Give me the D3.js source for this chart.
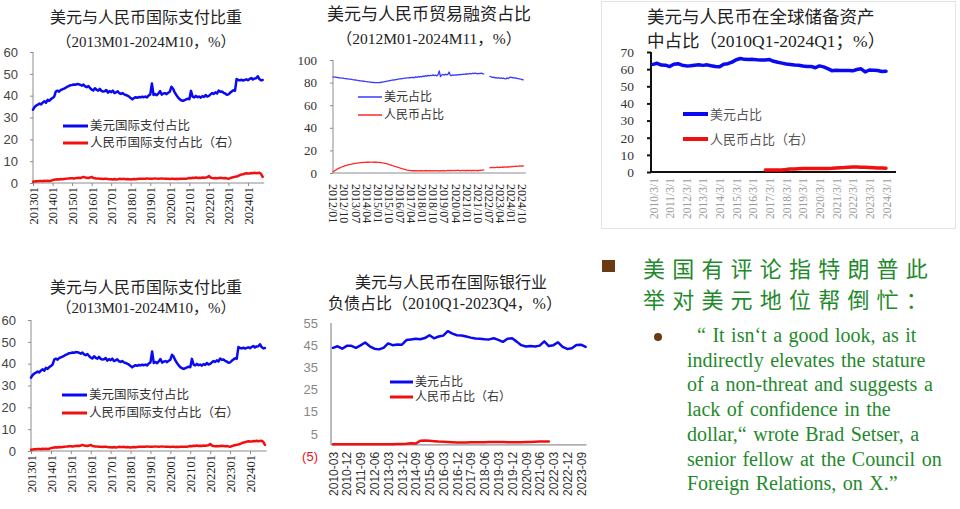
<!doctype html>
<html lang="zh">
<head>
<meta charset="UTF-8">
<title>美元与人民币占比</title>
<script src="https://cdnjs.cloudflare.com/ajax/libs/d3/7.8.5/d3.min.js"></script>
<style>
    body { margin: 0; background: #fff; }
    svg { display: block; }
    .ttl { font-family: "Liberation Serif", "Noto Sans CJK SC", serif; fill: #222; }
    .lg { font-family: "Liberation Serif", "Noto Sans CJK SC", serif; fill: #333; }
</style>
</head>
<body>
<svg id="board" width="960" height="509"></svg>
<script>

    // ---------- data ----------

    // 美元与人民币国际支付比重, monthly 2013M01-2024M10
    var payLabels = ['201301', '201401', '201501', '201601', '201701', '201801',
        '201901', '202001', '202101', '202201', '202301', '202401'];
    var usdPay = [
        33.6, 34.8, 35.5, 35.9, 36.4, 36.0, 36.9, 37.4, 36.8, 38.1, 37.6, 38.4,
        38.9, 39.6, 41.9, 42.3, 41.8, 42.6, 42.9, 43.2, 43.6, 44.1, 44.4, 44.8,
        44.9, 45.1, 45.0, 45.3, 45.2, 45.0, 44.6, 45.1, 44.3, 43.9, 44.4, 43.5,
        42.8, 42.4, 43.4, 42.7, 42.3, 43.1, 42.2, 41.9, 42.0, 42.6, 41.4, 42.1,
        41.6, 42.3, 41.2, 41.5, 42.0, 41.1, 40.8, 41.2, 40.6, 40.3, 40.0, 39.6,
        38.9, 38.3, 38.9, 39.3, 39.0, 39.4, 39.2, 39.5, 39.3, 39.6, 39.2, 40.1,
        40.6, 45.6, 40.3, 40.8, 40.2, 41.0, 42.1, 40.5, 40.9, 41.2, 40.7, 41.3,
        41.8, 44.1, 43.2, 41.5, 40.3, 39.2, 38.4, 37.9, 37.6, 37.9, 38.3, 38.6,
        38.4, 42.2, 39.6, 39.2, 39.9, 39.3, 39.6, 39.1, 39.8, 39.4, 40.3, 39.6,
        39.9, 40.6, 41.2, 40.8, 41.5, 41.0, 42.3, 41.8, 41.9, 41.3, 41.0, 40.4,
        40.6, 41.3, 41.9, 42.5, 42.2, 47.6, 47.2, 47.0, 47.3, 46.9, 47.2, 47.5,
        47.1, 47.6, 48.1, 47.4, 47.9, 48.0, 48.9, 47.6, 47.0, 47.2
    ];
    var cnyPay = [
        0.6, 0.7, 0.8, 0.8, 0.9, 0.9, 0.8, 1.0, 0.9, 1.0, 0.9, 1.0,
        1.3, 1.5, 1.6, 1.7, 1.6, 1.8, 1.7, 1.8, 1.9, 2.0, 2.1, 2.2,
        2.2, 2.1, 2.2, 2.3, 2.4, 2.3, 2.5, 2.8, 2.5, 2.4, 2.3, 2.5,
        2.8, 2.3, 2.2, 2.0, 2.1, 1.9, 2.0, 1.8, 1.9, 2.0, 1.8, 1.7,
        1.7, 1.6, 1.8, 1.6, 1.7, 1.9, 1.8, 1.8, 1.9, 1.7, 1.8, 1.7,
        1.6, 1.7, 1.8, 1.7, 1.8, 1.9, 2.0, 1.9, 2.0, 1.9, 2.1, 2.0,
        2.0, 1.9, 2.0, 2.1, 2.0, 1.9, 2.0, 2.1, 2.0, 1.9, 2.0, 1.9,
        1.8, 2.0, 1.9, 1.8, 1.9, 1.8, 1.9, 2.0, 1.9, 2.0, 1.9, 2.1,
        2.3, 2.2, 2.4, 2.3, 2.5, 2.3, 2.4, 2.3, 2.5, 2.4, 2.5, 2.6,
        3.2, 2.5, 2.3, 2.2, 2.3, 2.2, 2.3, 2.4, 2.3, 2.2, 2.3, 2.1,
        1.9, 2.2, 2.5, 2.6, 2.9, 3.0, 3.2, 3.6, 3.9, 4.0, 4.3, 4.5,
        4.4, 4.3, 4.6, 4.5, 4.7, 4.5, 4.6, 4.7, 4.2, 2.8
    ];
    var payTicksY = [0, 10, 20, 30, 40, 50, 60];

    // 美元与人民币贸易融资占比, monthly 2012M01-2024M11
    var tradeLabels = ['2012/01', '2012/10', '2013/07', '2014/04', '2015/01', '2015/10',
        '2016/07', '2017/04', '2018/01', '2018/10', '2019/07', '2020/04', '2021/01',
        '2021/10', '2022/07', '2023/04', '2024/01', '2024/10'];
    var usdTrade = [
        85.0, 84.9, 84.8, 84.6, 84.5, 84.3, 84.2, 84.0, 83.9, 83.7, 83.6, 83.4,
        83.3, 83.1, 83.0, 82.8, 82.6, 82.5, 82.3, 82.1, 82.0, 81.8, 81.6, 81.5,
        81.3, 81.2, 81.0, 80.9, 80.7, 80.6, 80.5, 80.3, 80.2, 80.1, 80.0, 80.0,
        79.9, 80.0, 80.1, 80.3, 80.5, 80.7, 80.9, 81.1, 81.3, 81.5, 81.7, 81.9,
        82.1, 82.3, 82.5, 82.7, 82.9, 83.1, 83.3, 83.4, 83.6, 83.8, 83.9, 84.0,
        84.1, 84.2, 84.3, 84.4, 84.5, 84.6, 84.3, 85.2, 84.6, 85.4, 84.9, 85.5,
        85.1, 85.8, 85.3, 86.2, 85.6, 86.4, 85.9, 86.5, 86.1, 86.8, 86.2, 86.6,
        86.0, 86.9, 90.3, 85.4, 86.7, 87.2, 86.5, 87.5, 86.8, 87.3, 89.4, 86.4,
        86.2, 86.8, 86.5, 86.9, 86.6, 87.1, 86.8, 87.3, 87.0, 87.4, 87.2, 87.6,
        87.4, 87.9, 87.6, 88.1, 87.8, 88.3, 88.0, 88.4, 88.1, 87.8, 88.2, 87.9,
        88.3, 88.0, 87.6, null, null, null, null, 85.6, 85.0, 84.6, 84.8, 84.2,
        84.4, 84.0, 84.3, 83.8, 84.1, 83.7, 84.0, 83.5, 83.2, 84.2, 83.6, 84.6,
        84.8, 84.3, 84.5, 84.0, 84.2, 83.8, 83.6, 83.2, 83.0, 82.7, 82.4
    ];
    var cnyTrade = [
        1.0, 1.8, 2.5, 3.2, 3.8, 4.3, 4.8, 5.3, 5.7, 6.1, 6.5, 6.8,
        7.1, 7.4, 7.6, 7.9, 8.1, 8.3, 8.5, 8.7, 8.8, 9.0, 9.1, 9.2,
        9.3, 9.4, 9.4, 9.5, 9.5, 9.5, 9.6, 9.6, 9.6, 9.5, 9.5, 9.5,
        9.4, 9.4, 9.3, 9.2, 9.0, 8.8, 8.6, 8.3, 8.0, 7.7, 7.3, 7.0,
        6.6, 6.3, 5.9, 5.6, 5.2, 4.9, 4.5, 4.2, 3.8, 3.5, 3.2, 2.9,
        2.6, 2.4, 2.2, 2.1, 2.0, 2.1, 2.0, 2.1, 2.0, 1.9, 2.0, 2.1,
        2.0, 1.9, 2.1, 2.0, 2.2, 1.9, 2.0, 2.1, 1.8, 2.0, 1.9, 2.1,
        1.9, 2.0, 1.7, 2.1, 1.9, 2.2, 2.0, 1.8, 2.1, 2.3, 2.0, 2.2,
        2.1, 2.4, 2.0, 2.3, 2.1, 2.5, 2.2, 2.0, 2.4, 2.1, 2.3, 2.0,
        2.2, 2.4, 2.1, 2.3, 2.0, 2.2, 2.4, 2.1, 2.3, 2.0, 2.2, 2.5,
        2.3, 2.6, 2.8, null, null, null, null, 4.6, 4.9, 4.7, 5.0, 4.8,
        4.9, 5.1, 4.8, 5.2, 5.0, 5.3, 5.1, 5.4, 5.2, 5.5, 5.3, 5.6,
        5.4, 5.8, 5.6, 5.9, 6.1, 5.8, 6.0, 6.3, 6.1, 6.4, 6.2
    ];
    var tradeTicksY = [0, 20, 40, 60, 80, 100];

    // 美元与人民币在全球储备资产中占比, quarterly 2010Q1-2024Q1
    var reserveLabels = ['2010/3/1', '2011/3/1', '2012/3/1', '2013/3/1', '2014/3/1',
        '2015/3/1', '2016/3/1', '2017/3/1', '2018/3/1', '2019/3/1', '2020/3/1',
        '2021/3/1', '2022/3/1', '2023/3/1', '2024/3/1'];
    var usdReserve = [
        62.8, 63.4, 62.4, 62.3,  61.5, 62.9, 63.2, 62.3,  61.9, 62.0, 62.3, 62.5,
        62.2, 62.5, 62.0, 61.6,  61.4, 62.9, 63.2, 64.1,  65.5, 66.2, 65.7, 65.6,
        65.7, 65.5, 65.4, 65.3,  65.6, 64.6, 64.0, 63.5,  63.0, 62.7, 62.4, 62.3,
        61.8, 61.6, 61.6, 60.8,  61.9, 61.3, 60.3, 59.1,  59.3, 59.2, 59.2, 59.2,
        59.0, 59.8, 60.2, 58.4,  59.5, 59.4, 59.2, 58.6,  58.8
    ];
    var cnyReserve = [
        null, null, null, null,  null, null, null, null,  null, null, null, null,
        null, null, null, null,  null, null, null, null,  null, null, null, null,
        null, null, null, 1.1,   1.1, 1.1, 1.2, 1.2,      1.4, 1.8, 1.8, 1.9,
        2.0, 2.0, 2.0, 2.0,      2.0, 2.0, 2.1, 2.2,      2.4, 2.5, 2.6, 2.8,
        2.9, 2.9, 2.8, 2.7,      2.6, 2.5, 2.4, 2.3,      2.2
    ];
    var reserveTicksY = [0, 10, 20, 30, 40, 50, 60, 70];

    // 美元与人民币在国际银行业负债占比, quarterly 2010Q1-2023Q4
    var liabLabels = ['2010-03', '2010-12', '2011-09', '2012-06', '2013-03', '2013-12',
        '2014-09', '2015-06', '2016-03', '2016-12', '2017-09', '2018-06', '2019-03',
        '2019-12', '2020-09', '2021-06', '2022-03', '2022-12', '2023-09'];
    var usdLiab = [
        43.8, 44.5, 43.4, 44.7,  44.7, 43.8, 44.9, 46.2,  44.5, 43.4, 43.1, 43.8,
        45.8, 45.0, 45.3, 45.2,  47.3, 47.6, 47.9, 47.7,  48.2, 49.5, 48.1, 48.9,
        49.3, 51.3, 50.2, 49.5,  49.4, 48.9, 48.4, 48.0,  47.9, 47.7, 47.6, 48.1,
        47.4, 46.5, 47.9, 48.1,  46.6, 45.0, 44.4, 44.6,  44.4, 44.8, 46.7, 44.6,
        45.0, 46.3, 44.2, 43.3,  43.6, 45.1, 45.2, 44.2
    ];
    var cnyLiab = [
        0.3, 0.3, 0.3, 0.3,  0.3, 0.3, 0.3, 0.3,  0.3, 0.3, 0.3, 0.3,
        0.3, 0.3, 0.4, 0.4,  0.5, 0.8, 0.6, 1.9,  2.0, 1.9, 1.7, 1.5,
        1.4, 1.3, 1.2, 1.1,  1.1, 1.1, 1.2, 1.2,  1.2, 1.2, 1.3, 1.3,
        1.3, 1.3, 1.2, 1.2,  1.2, 1.2, 1.3, 1.3,  1.4, 1.5, 1.5, 1.5,
        null, null, null, null,  null, null, null, null
    ];
    var liabTicksY = [-5, 5, 15, 25, 35, 45, 55];

    // text block
    var headLines = ['美国有评论指特朗普此', '举对美元地位帮倒忙：'];
    var quoteLines = [
        '“ It isn‘t a good look, as it',
        'indirectly elevates the stature',
        'of a non-threat and suggests a',
        'lack of confidence in the',
        'dollar,“ wrote Brad Setser, a',
        'senior fellow at the Council on',
        'Foreign Relations, on X.”'
    ];

    // ---------- drawing ----------

    var BLUE = '#0a0af0';
    var RED = '#f01010';

    var svg = d3.select('#board');

    function drawPanel(p) {

        var g = svg.append('g');

        var x = d3.scaleLinear().domain(p.xDomain).range(p.xRange);
        var y = d3.scaleLinear().domain(p.yDomain).range(p.yRange);
        var base = y(0);

        // y axis
        var yAxis = d3.axisLeft(y)
                .tickValues(p.yTicks)
                .tickSize(p.yTickSize)
                .tickPadding(p.yPad)
                .tickFormat(function (d) {
                    return d < 0 ? '(' + (-d) + ')' : d;
                });

        var ga = g.append('g')
                .attr('transform', 'translate(' + p.axisX + ',0)')
                .call(yAxis);
        ga.select('.domain').remove();
        ga.selectAll('line').attr('stroke', p.axisColor).attr('stroke-width', p.axisWidth);
        ga.selectAll('text')
                .attr('fill', function (d) { return d < 0 ? RED : p.yColor; })
                .style('font-family', p.yFont)
                .style('font-size', p.yFontSize + 'px');

        g.append('line')
                .attr('x1', p.axisX).attr('x2', p.axisX)
                .attr('y1', y(p.yDomain[1])).attr('y2', base)
                .attr('stroke', p.axisColor).attr('stroke-width', p.axisWidth);

        // x axis
        var xAxis = d3.axisBottom(x)
                .tickValues(p.xLabels.map(function (l, i) { return i * p.xStep; }))
                .tickSize(p.xTickSize)
                .tickFormat(function (d) { return p.xLabels[d / p.xStep]; });

        var gx = g.append('g')
                .attr('transform', 'translate(0,' + base + ')')
                .call(xAxis);
        gx.select('.domain').remove();
        gx.selectAll('line').attr('stroke', p.axisColor).attr('stroke-width', p.axisWidth);
        gx.selectAll('text')
                .attr('transform', 'rotate(' + p.rot + ')')
                .attr('x', p.rot < 0 ? -p.xPad : p.xPad)
                .attr('y', 0)
                .attr('dy', '0.35em')
                .attr('text-anchor', p.rot < 0 ? 'end' : 'start')
                .attr('fill', p.xColor)
                .style('font-family', p.xFont)
                .style('font-size', p.xFontSize + 'px');

        g.append('line')
                .attr('x1', p.axisX).attr('x2', x(p.xEnd))
                .attr('y1', base).attr('y2', base)
                .attr('stroke', p.axisColor).attr('stroke-width', p.axisWidth);

        // series
        p.series.forEach(function (s) {
            var line = d3.line()
                    .defined(function (d) { return d != null; })
                    .x(function (d, i) { return x(i); })
                    .y(function (d) { return y(d); });
            g.append('path')
                    .datum(s.values)
                    .attr('d', line)
                    .attr('fill', 'none')
                    .attr('stroke', s.color)
                    .attr('stroke-width', p.lineWidth)
                    .attr('stroke-linejoin', 'round')
                    .attr('stroke-linecap', 'round');
        });

        // legend
        p.series.forEach(function (s, k) {
            var ly = p.legend.y + k * p.legend.dy;
            g.append('line')
                    .attr('x1', p.legend.x).attr('x2', p.legend.x + p.legend.len)
                    .attr('y1', ly).attr('y2', ly)
                    .attr('stroke', s.color)
                    .attr('stroke-width', p.legend.width);
            g.append('text')
                    .attr('class', 'lg')
                    .attr('x', p.legend.x + p.legend.len + 2)
                    .attr('y', ly)
                    .attr('dominant-baseline', 'central')
                    .style('font-size', p.legend.size + 'px')
                    .style('fill', p.legend.color || '#333')
                    .text(s.name);
        });

        // titles
        p.titles.forEach(function (t) {
            g.append('text')
                    .attr('class', 'ttl')
                    .attr('x', t.x)
                    .attr('y', t.y)
                    .attr('text-anchor', t.anchor || 'middle')
                    .attr('dominant-baseline', 'central')
                    .style('font-size', t.size + 'px')
                    .text(t.text);
        });
    }

    function payPanel(top, axisX, right) {
        return {
            xDomain: [0, 132], xRange: [axisX, right], xEnd: 142, xStep: 12,
            yDomain: [0, 60], yRange: [top + 131, top], yTicks: payTicksY,
            axisX: axisX, axisColor: '#8c8c8c', axisWidth: 1,
            yTickSize: 3, yPad: 12, yColor: '#444', yFont: 'Liberation Sans', yFontSize: 13,
            xLabels: payLabels, xTickSize: 3, xPad: 4, rot: -90,
            xColor: '#222', xFont: 'Liberation Serif', xFontSize: 12.5,
            lineWidth: 2.5,
            series: [
                {name: '美元国际支付占比', values: usdPay, color: BLUE},
                {name: '人民币国际支付占比（右）', values: cnyPay, color: RED}
            ]
        };
    }

    // 1. top-left
    var p1 = payPanel(52, 33, 248);
    p1.legend = {x: 63, y: 126, dy: 17, len: 25, width: 3, size: 12.5};
    p1.titles = [
        {text: '美元与人民币国际支付比重', x: 146, y: 17, size: 16},
        {text: '（2013M01-2024M10，%）', x: 146, y: 42, size: 15}
    ];
    drawPanel(p1);

    // 4. bottom-left
    var p4 = payPanel(320, 31, 250);
    p4.legend = {x: 62, y: 395, dy: 18, len: 25, width: 3, size: 12.5};
    p4.titles = [
        {text: '美元与人民币国际支付比重', x: 146, y: 287, size: 16},
        {text: '（2013M01-2024M10，%）', x: 146, y: 308, size: 15}
    ];
    drawPanel(p4);

    // 2. top-middle
    drawPanel({
        xDomain: [0, 153], xRange: [333, 522], xEnd: 156, xStep: 9,
        yDomain: [0, 100], yRange: [173, 60], yTicks: tradeTicksY,
        axisX: 333, axisColor: '#8c8c8c', axisWidth: 1,
        yTickSize: 3, yPad: 13, yColor: '#333', yFont: 'Liberation Serif', yFontSize: 13,
        xLabels: tradeLabels, xTickSize: 0, xPad: 11, rot: 90,
        xColor: '#222', xFont: 'Liberation Serif', xFontSize: 12,
        lineWidth: 1.3,
        series: [
            {name: '美元占比', values: usdTrade, color: '#3a3aff'},
            {name: '人民币占比', values: cnyTrade, color: '#ff2a2a'}
        ],
        legend: {x: 358, y: 97, dy: 18, len: 24, width: 1.5, size: 12},
        titles: [
            {text: '美元与人民币贸易融资占比', x: 429, y: 14, size: 17},
            {text: '（2012M01-2024M11，%）', x: 429, y: 38, size: 15.5}
        ]
    });

    // 3. top-right
    svg.append('rect')
            .attr('x', 601.5).attr('y', 1.5)
            .attr('width', 354).attr('height', 227)
            .attr('fill', 'none')
            .attr('stroke', '#e4e4e4');

    drawPanel({
        xDomain: [0, 56], xRange: [653, 886], xEnd: 58.4, xStep: 4,
        yDomain: [0, 70], yRange: [172, 52], yTicks: reserveTicksY,
        axisX: 651, axisColor: '#111', axisWidth: 2,
        yTickSize: 4, yPad: 13, yColor: '#333', yFont: 'Liberation Serif', yFontSize: 13.5,
        xLabels: reserveLabels, xTickSize: 0, xPad: 6, rot: -90,
        xColor: '#9a9a9a', xFont: 'Liberation Serif', xFontSize: 11.5,
        lineWidth: 3.5,
        series: [
            {name: '美元占比', values: usdReserve, color: BLUE},
            {name: '人民币占比（右）', values: cnyReserve, color: RED}
        ],
        legend: {x: 683, y: 114, dy: 25, len: 25, width: 4, size: 13, color: '#555'},
        titles: [
            {text: '美元与人民币在全球储备资产', x: 647, y: 17, size: 17.5, anchor: 'start'},
            {text: '中占比（2010Q1-2024Q1；%）', x: 647, y: 41, size: 17.5, anchor: 'start'}
        ]
    });

    // 5. bottom-middle
    drawPanel({
        xDomain: [0, 54], xRange: [333, 581], xEnd: 55.2, xStep: 3,
        yDomain: [-5, 55], yRange: [456, 323], yTicks: liabTicksY,
        axisX: 331, axisColor: '#777', axisWidth: 1,
        yTickSize: 0, yPad: 13, yColor: '#888', yFont: 'Liberation Sans', yFontSize: 13,
        xLabels: liabLabels, xTickSize: 0, xPad: 7, rot: -90,
        xColor: '#333', xFont: 'Liberation Sans', xFontSize: 12,
        lineWidth: 2.5,
        series: [
            {name: '美元占比', values: usdLiab, color: BLUE},
            {name: '人民币占比（右）', values: cnyLiab, color: RED}
        ],
        legend: {x: 390, y: 382, dy: 15, len: 23, width: 3, size: 12},
        titles: [
            {text: '美元与人民币在国际银行业', x: 451, y: 282, size: 16},
            {text: '负债占比（2010Q1-2023Q4，%）', x: 445, y: 303, size: 16}
        ]
    });

    // ---------- text block ----------

    var tb = svg.append('g');

    tb.append('rect')
            .attr('x', 602).attr('y', 260)
            .attr('width', 13).attr('height', 12)
            .attr('fill', '#6b3a10');

    tb.selectAll('text.head')
            .data(headLines)
            .enter().append('text')
            .attr('class', 'head')
            .attr('x', 643)
            .attr('y', function (d, i) { return 267 + i * 31; })
            .attr('dominant-baseline', 'central')
            .style('font-family', '"Noto Sans CJK SC"')
            .style('font-size', '22px')
            .style('letter-spacing', '7.2px')
            .style('fill', '#1f8a2c')
            .text(function (d) { return d; });

    tb.append('circle')
            .attr('cx', 658).attr('cy', 337).attr('r', 4)
            .attr('fill', '#6b3a10');

    tb.selectAll('text.quote')
            .data(quoteLines)
            .enter().append('text')
            .attr('class', 'quote')
            .attr('x', function (d, i) { return i === 0 ? 697 : 687; })
            .attr('y', function (d, i) { return 342 + i * 24.7; })
            .style('font-family', '"Liberation Serif"')
            .style('font-size', '20px')
            .style('word-spacing', '1.5px')
            .style('fill', '#1f8a2c')
            .text(function (d) { return d; });

</script>
</body>
</html>
